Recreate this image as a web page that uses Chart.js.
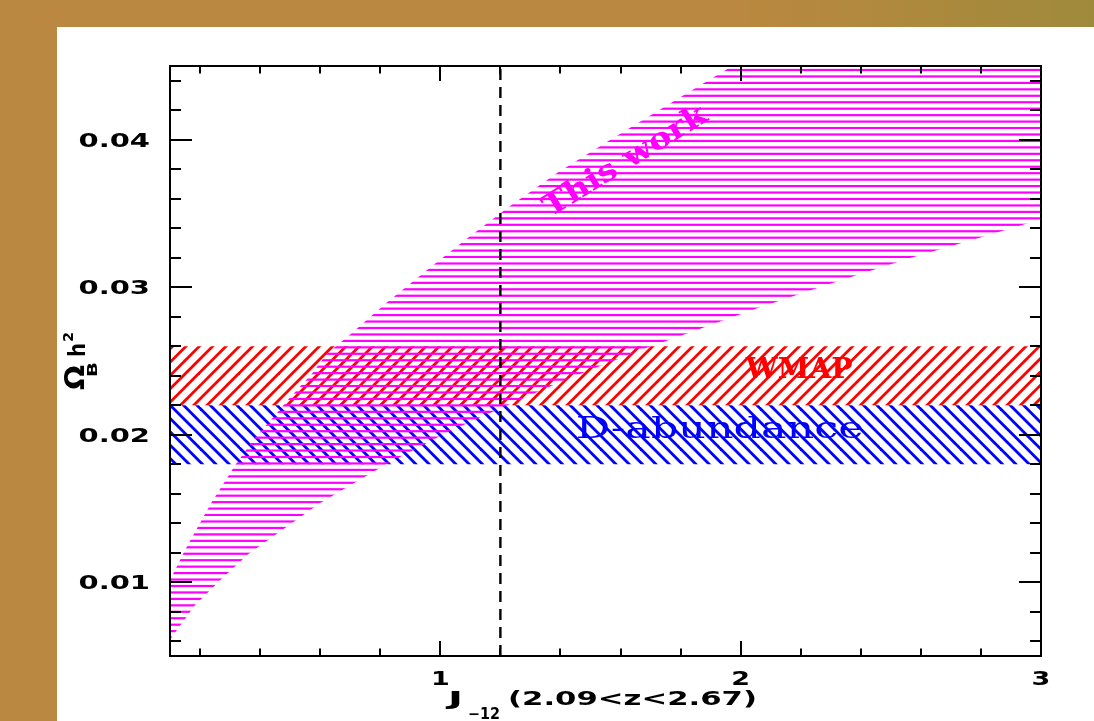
<!DOCTYPE html>
<html>
<head>
<meta charset="utf-8">
<title>Omega_B h^2 vs J_-12</title>
<script src="https://cdn.jsdelivr.net/npm/chart.js@4.4.1/dist/chart.umd.min.js"></script>
<style>
  html, body { margin: 0; padding: 0; width: 1094px; height: 721px; overflow: hidden; }
  body { position: relative; background: linear-gradient(to right, #ba8840 0%, #ba8840 68%, #9f8a3b 100%); }
  #paper { position: absolute; left: 57px; top: 27px; right: 0; bottom: 0; background: #fff; }
  #chart { position: absolute; left: 0; top: 0; }
</style>
</head>
<body>
<div id="paper"></div>
<canvas id="chart" width="1094" height="721"></canvas>
<script>
// ── Data ──────────────────────────────────────────────────
const xRange = [0.1, 3];
const yRange = [0.005, 0.045];

// "This work" allowed region, lower and upper edges (J_-12 , Omega_B h^2)
const workLowerJ  = [0.1, 0.117, 0.183, 0.267, 0.36, 0.6, 0.823, 1.027, 1.167, 1.41, 1.69, 1.803, 2.043, 2.303, 2.573, 2.79, 2.937, 3.0];
const workLowerOb = [0.0061, 0.0066, 0.00844, 0.01014, 0.0119, 0.01537, 0.01803, 0.0202, 0.0215, 0.02367, 0.02592, 0.02673, 0.0285, 0.03027, 0.03204, 0.03333, 0.03422, 0.0346];
const workUpperJ  = [0.1, 0.143, 0.153, 0.237, 0.32, 0.383, 0.457, 0.493, 0.573, 0.623, 0.7, 0.823, 0.98, 1.09, 1.237, 1.39, 1.557, 1.77, 1.953, 2.0, 3.0];
const workUpperOb = [0.01014, 0.0119, 0.01231, 0.01537, 0.01803, 0.0198, 0.0215, 0.02238, 0.02415, 0.02551, 0.0268, 0.02898, 0.03156, 0.03333, 0.03558, 0.03776, 0.03988, 0.04252, 0.04476, 0.04533, 0.04533];

const wmapRange   = [0.022, 0.026];  // WMAP band
const dAbundRange = [0.018, 0.022];  // D-abundance band
const jCut = 1.2;                    // dashed line

const xTicks      = [1, 2, 3];
const xTickLabels = ["1", "2", "3"];
const yTicks      = [0.01, 0.02, 0.03, 0.04];
const yTickLabels = ["0.01", "0.02", "0.03", "0.04"];
const xMinorStep = 0.2;
const yMinorStep = 0.002;

const notes = [
  { text: "This work",   x: 1.617, y: 0.0385,  color: "#ff00ff" },
  { text: "WMAP",        x: 2.195, y: 0.02388, color: "#ff0000" },
  { text: "D-abundance", x: 1.93,  y: 0.0198,  color: "#0000ff" },
];

// ── Styles ────────────────────────────────────────────────
const SANS  = '"DejaVu Sans", sans-serif';
const SERIF = '"DejaVu Serif", serif';
const noteStyle = [
  { font: `bold 30px ${SERIF}`, w: 187, rot: -31.5, baseline: "middle" },
  { font: `bold 27px ${SERIF}`, w: 107, rot: 0, baseline: "alphabetic" },
  { font: `29px ${SERIF}`, w: 288, rot: 0, baseline: "alphabetic" },
];

const pts = (xs, ys) => xs.map((x, i) => ({ x, y: ys[i] }));

// ── Hatch patterns ────────────────────────────────────────
function hLines(color, gap, n, off, lw) {
  const c = document.createElement("canvas");
  c.width = 4; c.height = Math.round(gap * n);
  const g = c.getContext("2d");
  g.fillStyle = color;
  for (let k = 0; k < n; k++) g.fillRect(0, off + k * gap - lw / 2, 4, lw);
  return g.createPattern(c, "repeat");
}
function diagLines(color, dir, gap, off, lw) {
  const size = 40;
  const c = document.createElement("canvas");
  c.width = size; c.height = size;
  const g = c.getContext("2d");
  g.strokeStyle = color; g.lineWidth = lw;
  for (let k = -8; k <= 12; k++) {
    const cc = off + k * gap;
    g.beginPath();
    if (dir > 0) { g.moveTo(cc + 10, -10); g.lineTo(cc - 50, 50); }   // "/"
    else         { g.moveTo(cc - 10, -10); g.lineTo(cc + 50, 50); }   // "\"
    g.stroke();
  }
  return g.createPattern(c, "repeat");
}
const magentaHatch = hLines("#ff00ff", 6.45, 20, 5.5, 2.2);
const redHatch  = diagLines("#ff0000",  1, 40 / 3, 12.3, 2.8);
const blueHatch = diagLines("#0000ff", -1, 40 / 3, 5, 2.8);

// ── Text helper ───────────────────────────────────────────
function fitText(ctx, txt, x, y, o) {
  ctx.save();
  ctx.font = o.font;
  ctx.fillStyle = o.color || "#000";
  ctx.textBaseline = o.baseline || "alphabetic";
  ctx.textAlign = o.align || "left";
  const m = ctx.measureText(txt).width;
  ctx.translate(x, y);
  if (o.rot) ctx.rotate(o.rot * Math.PI / 180);
  ctx.scale(o.w ? o.w / m : (o.sx || 1), 1);
  ctx.fillText(txt, 0, 0);
  ctx.restore();
}

// ── Frame, ticks, labels ──────────────────────────────────
const decor = {
  id: "decor",
  afterDatasetsDraw(chart) {
    const { ctx, chartArea: a, scales: { x, y } } = chart;

    notes.forEach((n, i) => fitText(ctx, n.text, x.getPixelForValue(n.x), y.getPixelForValue(n.y),
      Object.assign({ color: n.color, align: "center" }, noteStyle[i])));

    ctx.save();
    ctx.strokeStyle = "#000";
    ctx.lineWidth = 2;
    ctx.strokeRect(a.left, a.top, a.right - a.left, a.bottom - a.top);

    const tick = (x0, y0, x1, y1) => { ctx.beginPath(); ctx.moveTo(x0, y0); ctx.lineTo(x1, y1); ctx.stroke(); };
    for (let v = xMinorStep; v < xRange[1] - 1e-9; v += xMinorStep) {
      const px = Math.round(x.getPixelForValue(v));
      const len = xTicks.some(t => Math.abs(t - v) < 1e-6) ? 15 : 7.5;
      tick(px, a.bottom, px, a.bottom - len);
      tick(px, a.top, px, a.top + len);
    }
    for (let v = 0.006; v < yRange[1] - 1e-9; v += yMinorStep) {
      const py = Math.round(y.getPixelForValue(v));
      const len = yTicks.some(t => Math.abs(t - v) < 1e-6) ? 22 : 11;
      tick(a.left, py, a.left + len, py);
      tick(a.right, py, a.right - len, py);
    }
    ctx.restore();

    const tickFont = `bold 20px ${SANS}`;
    xTicks.forEach((t, i) => fitText(ctx, xTickLabels[i], x.getPixelForValue(t), a.bottom + 29,
      { font: tickFont, sx: 1.35, align: "center" }));
    yTicks.forEach((t, i) => fitText(ctx, yTickLabels[i], a.left - 20, y.getPixelForValue(t) + 7,
      { font: tickFont, sx: 1.45, align: "right" }));

    // x title: J_-12 (2.09<z<2.67)
    fitText(ctx, "J", 448, 705, { font: `bold 19px ${SANS}`, w: 15 });
    fitText(ctx, "\u221212", 468, 719, { font: `bold 15px ${SANS}`, w: 32 });
    fitText(ctx, "(2.09<z<2.67)", 508, 705, { font: `bold 19px ${SANS}`, w: 249 });

    // y title: Omega_B h^2 (rotated)
    fitText(ctx, "\u03a9", 84, 390, { font: `bold 26px ${SANS}`, w: 25, rot: -90 });
    fitText(ctx, "B", 97, 377, { font: `bold 14px ${SANS}`, w: 15, rot: -90 });
    fitText(ctx, "h", 85, 357, { font: `bold 23px ${SANS}`, w: 14, rot: -90 });
    fitText(ctx, "2", 73, 342, { font: `bold 14px ${SANS}`, w: 10, rot: -90 });
  }
};

// ── Chart ─────────────────────────────────────────────────
const noLine = { borderWidth: 0, borderColor: "transparent", pointRadius: 0 };

new Chart(document.getElementById("chart").getContext("2d"), {
  type: "line",
  data: {
    datasets: [
      { label: "lower", data: pts(workLowerJ, workLowerOb), fill: false, order: 1, ...noLine },
      { label: "This work", data: pts(workUpperJ, workUpperOb), fill: "-1",
        backgroundColor: magentaHatch, order: 1, ...noLine },
      { label: "WMAP", data: pts(xRange, [wmapRange[1], wmapRange[1]]), fill: { value: wmapRange[0] },
        backgroundColor: redHatch, order: 2, ...noLine },
      { label: "D-abundance", data: pts(xRange, [dAbundRange[1], dAbundRange[1]]), fill: { value: dAbundRange[0] },
        backgroundColor: blueHatch, order: 2, ...noLine },
      { label: "cut", data: pts([jCut, jCut], yRange), fill: false, order: 0,
        borderColor: "#000", borderWidth: 2.4, borderDash: [11, 7], pointRadius: 0 },
    ]
  },
  options: {
    responsive: false,
    animation: false,
    events: [],
    layout: { padding: { left: 170, right: 53, top: 66, bottom: 65 } },
    scales: {
      x: { type: "linear", min: xRange[0], max: xRange[1], display: false },
      y: { type: "linear", min: yRange[0], max: yRange[1], display: false },
    },
    plugins: { legend: { display: false }, tooltip: { enabled: false } },
  },
  plugins: [decor],
});
</script>
</body>
</html>
